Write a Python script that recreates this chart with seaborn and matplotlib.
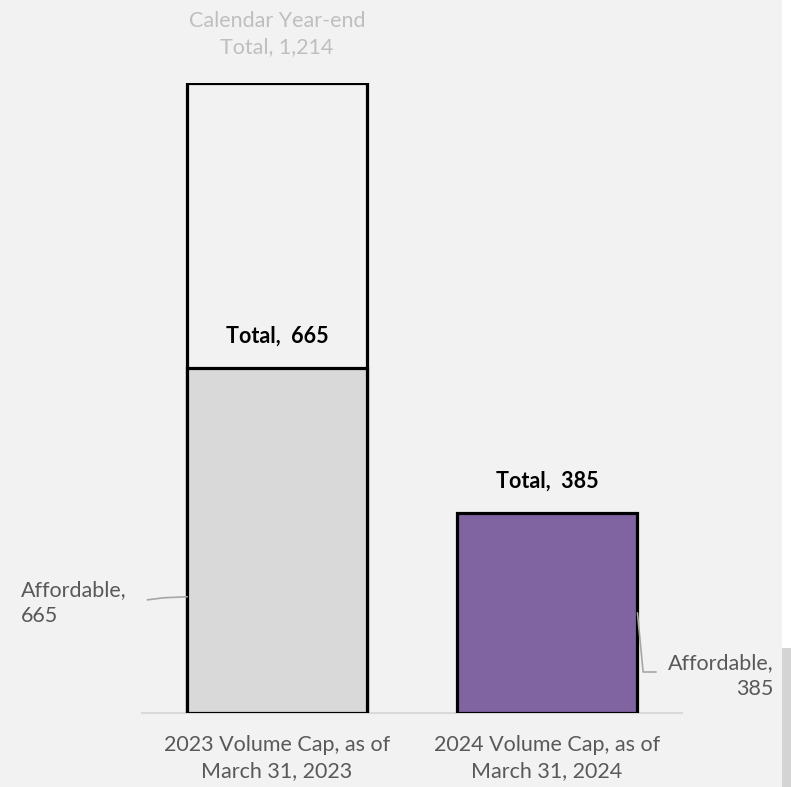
import numpy as np
import pandas as pd
import seaborn as sns
import matplotlib.pyplot as plt
from matplotlib.patches import Rectangle

# data
categories = ["2023 Volume Cap, as of\nMarch 31, 2023", "2024 Volume Cap, as of\nMarch 31, 2024"]
affordable = [665, 385]
year_end_total = [1214]
bar_colors = ["#d9d9d9", "#8064a2"]

sns.set_style("white")
plt.rcParams["font.family"] = ["Lato", "DejaVu Sans"]

bg = "#f2f2f2"
fig = plt.figure(figsize=(7.91, 7.87), dpi=100, facecolor=bg)
ax = fig.add_axes([142 / 791, 74 / 787, 540 / 791, 630 / 787])
ax.set_facecolor(bg)

# calendar year-end total (outline only, behind the first bar)
sns.barplot(x=[categories[0]], y=year_end_total, order=categories, color=bg,
            edgecolor="black", linewidth=2.3, width=0.667, ax=ax, saturation=1)
sns.barplot(x=categories, y=affordable, hue=categories, palette=bar_colors, legend=False,
            edgecolor="black", linewidth=2.3, width=0.667, ax=ax, saturation=1)

ax.set_ylim(0, year_end_total[0])
ax.set_xlim(-0.5, 1.5)
ax.set_yticks([])
ax.set_xlabel("")
ax.set_ylabel("")
for s in ["top", "left", "right"]:
    ax.spines[s].set_visible(False)
ax.spines["bottom"].set_color("#d9d9d9")
ax.spines["bottom"].set_linewidth(1.5)
ax.spines["bottom"].set_zorder(0)
ax.tick_params(axis="x", length=0, pad=16, labelsize=15.5, labelcolor="#595959")
for lbl in ax.get_xticklabels():
    lbl.set_linespacing(1.35)

# labels
ax.text(0, year_end_total[0] + 94, "Calendar Year-end\nTotal, 1,214", ha="center", va="center",
        fontsize=15.5, color="#bfbfbf", linespacing=1.35, clip_on=False)
for i, v in enumerate(affordable):
    ax.text(i, v + 62, f"Total,  {v}", ha="center", va="center", fontsize=15.5,
            fontweight="bold", color="black")

ax.text(-0.95, 212, "Affordable,\n665", ha="left", va="center", fontsize=15.5,
        color="#595959", linespacing=1.35, clip_on=False)
ax.plot([-0.48, -0.42, -0.333], [218, 222, 224], color="#a6a6a6", lw=1.2, clip_on=False)

ax.text(1.84, 71, "Affordable,\n385", ha="right", va="center", fontsize=15.5,
        color="#595959", linespacing=1.35, clip_on=False)
ax.plot([1.335, 1.356, 1.404], [193, 79, 79], color="#a6a6a6", lw=1.2, clip_on=False)

# right frame edge
fig.patches.append(Rectangle((782 / 791, 0), 9 / 791, 1, transform=fig.transFigure,
                             facecolor="white", edgecolor="none"))
fig.patches.append(Rectangle((782 / 791, 0), 9 / 791, 139 / 787, transform=fig.transFigure,
                             facecolor="#d4d4d4", edgecolor="none"))

fig.savefig("out.png", dpi=100, facecolor=bg)
